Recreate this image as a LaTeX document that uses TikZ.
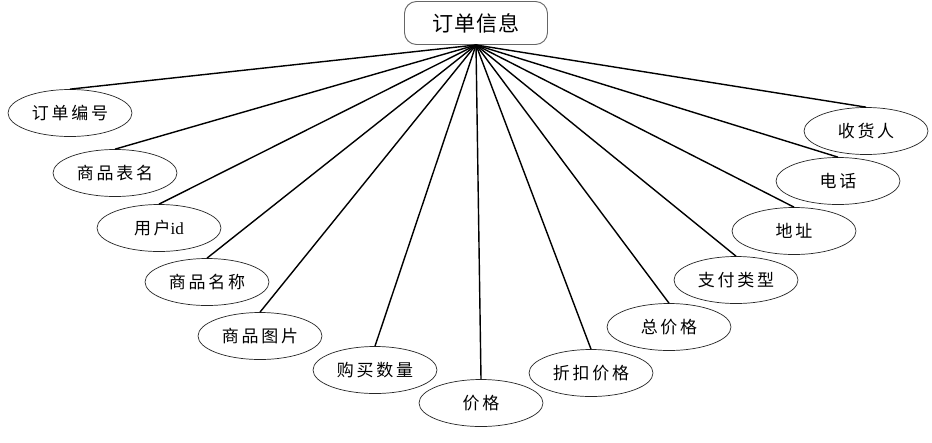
\documentclass[tikz,border=0pt]{standalone}
\usepackage{fontspec}
\setmainfont{Liberation Serif}
\newfontfamily\cjk[LetterSpace=16]{Noto Sans CJK SC}
\newfontfamily\cjkroot[LetterSpace=5]{Noto Sans CJK SC}
\usetikzlibrary{shapes.geometric, positioning}

\begin{document}
\begin{tikzpicture}[
    x=0.03cm, y=-0.03cm,
    rootbox/.style={rectangle, draw=black!60, rounded corners=0.36cm, align=center, minimum width=4.29cm, minimum height=1.29cm, fill=white, font=\fontsize{18}{20}\selectfont\cjkroot, line width=0.8pt},
    attr/.style={ellipse, draw=black!85, align=center, minimum width=3.72cm, minimum height=1.41cm, inner sep=0pt, fill=white, font=\fontsize{14.5}{16}\selectfont\cjk, line width=0.6pt},
    link/.style={draw=black, line width=1.2pt}
]
\useasboundingbox (0,0) rectangle (932,442);

% 1. Root entity
\node[rootbox] (order) at (476,23) {订单信息};

% 2. Attributes, left side
\node[attr] (orderno)   at (70,113)  {订单编号};
\node[attr] (tablename) at (115,173) {商品表名};
\node[attr] (userid)    at (159,228) {用户{\rmfamily id}};
\node[attr] (goodsname) at (207,282) {商品名称};
\node[attr] (goodsimg)  at (260,336) {商品图片};
\node[attr] (buynum)    at (375,370) {购买数量};

% 3. Attribute, bottom
\node[attr] (price)     at (481,403) {价格};

% 4. Attributes, right side
\node[attr] (discount)  at (591,373) {折扣价格};
\node[attr] (total)     at (669,327) {总价格};
\node[attr] (paytype)   at (736,280) {支付类型};
\node[attr] (address)   at (794,231) {地址};
\node[attr] (phone)     at (838,181) {电话};
\node[attr] (receiver)  at (866,131) {收货人};

% 5. Connections
\draw[link] (order.south) -- (orderno.north);
\draw[link] (order.south) -- (tablename.north);
\draw[link] (order.south) -- (userid.north);
\draw[link] (order.south) -- (goodsname.north);
\draw[link] (order.south) -- (goodsimg.north);
\draw[link] (order.south) -- (buynum.north);
\draw[link] (order.south) -- (price.north);
\draw[link] (order.south) -- (discount.north);
\draw[link] (order.south) -- (total.north);
\draw[link] (order.south) -- (paytype.north);
\draw[link] (order.south) -- (address.north);
\draw[link] (order.south) -- (phone.north);
\draw[link] (order.south) -- (receiver.north);

\end{tikzpicture}
\end{document}
